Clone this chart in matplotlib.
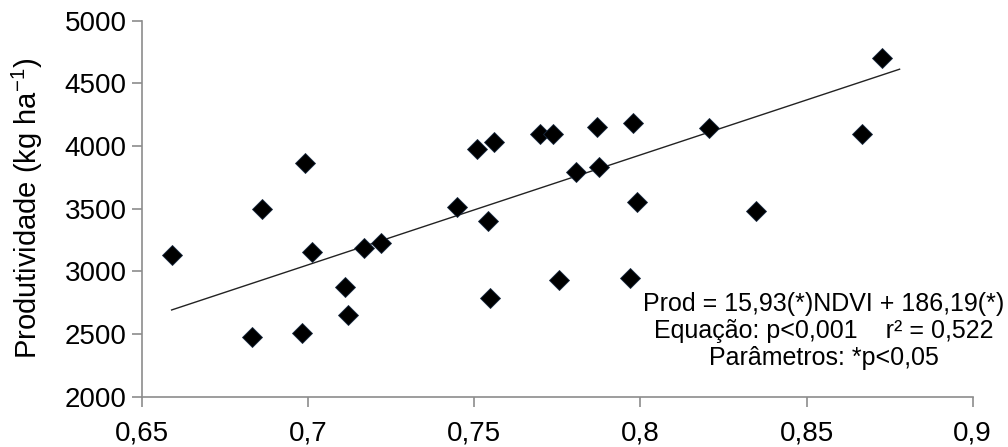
import numpy as np
import matplotlib
matplotlib.use("Agg")
import matplotlib.pyplot as plt

plt.rcParams['font.family'] = ['Liberation Sans', 'DejaVu Sans']
plt.rcParams['mathtext.fontset'] = 'custom'
plt.rcParams['mathtext.rm'] = 'Liberation Sans'
plt.rcParams['mathtext.it'] = 'Liberation Sans:italic'

ndvi = [0.659, 0.6833, 0.6863, 0.6991, 0.6981, 0.7011, 0.7112, 0.7122, 0.717, 0.722,
        0.745, 0.7508, 0.756, 0.7541, 0.7548, 0.7698, 0.7738, 0.7869, 0.7979, 0.7808,
        0.7876, 0.7989, 0.7756, 0.7969, 0.8207, 0.8347, 0.8666, 0.8728]
prod = [3131, 2479, 3498, 3863, 2506, 3157, 2878, 2652, 3184, 3224,
        3516, 3977, 4035, 3405, 2785, 4094, 4094, 4155, 4182, 3796,
        3836, 3556, 2931, 2945, 4142, 3482, 4094, 4706]

# trendline ends
trend_x = [0.659, 0.878]
trend_y = [2692, 4613]

fig = plt.figure(figsize=(10.08, 4.47), dpi=100)
ax = fig.add_axes([141.7 / 1008, 1 - 396.7 / 447, (972.7 - 141.7) / 1008, (396.7 - 20.7) / 447])

ax.plot(trend_x, trend_y, color='#222222', lw=1.0, zorder=2)
ax.plot(ndvi, prod, linestyle='none', marker='D', ms=10, color='black',
        markeredgecolor='#1a2a40', markeredgewidth=0.6, zorder=3)

ax.set_xlim(0.65, 0.9)
ax.set_ylim(2000, 5000)
ax.set_xticks([0.65, 0.7, 0.75, 0.8, 0.85, 0.9])
ax.set_xticklabels(['0,65', '0,7', '0,75', '0,8', '0,85', '0,9'])
ax.set_yticks(range(2000, 5001, 500))

for s in ['top', 'right']:
    ax.spines[s].set_visible(False)
for s in ['left', 'bottom']:
    ax.spines[s].set_color('#8c8c8c')
    ax.spines[s].set_linewidth(1.2)
ax.tick_params(axis='both', colors='#8c8c8c', labelcolor='black', labelsize=20,
               length=7, width=1.2, direction='out')
ax.tick_params(axis='x', pad=10)
ax.tick_params(axis='y', pad=4)

ax.set_ylabel('Produtividade (kg ha$^{-1}$)', fontsize=21, labelpad=14)

fig.text(824 / 1008, 1 - 292 / 447,
         'Prod = 15,93(*)NDVI + 186,19(*)\nEquação: p<0,001    r² = 0,522\nParâmetros: *p<0,05',
         ha='center', va='top', multialignment='center', fontsize=18, linespacing=1.17)

fig.savefig('out.png', dpi=100)
